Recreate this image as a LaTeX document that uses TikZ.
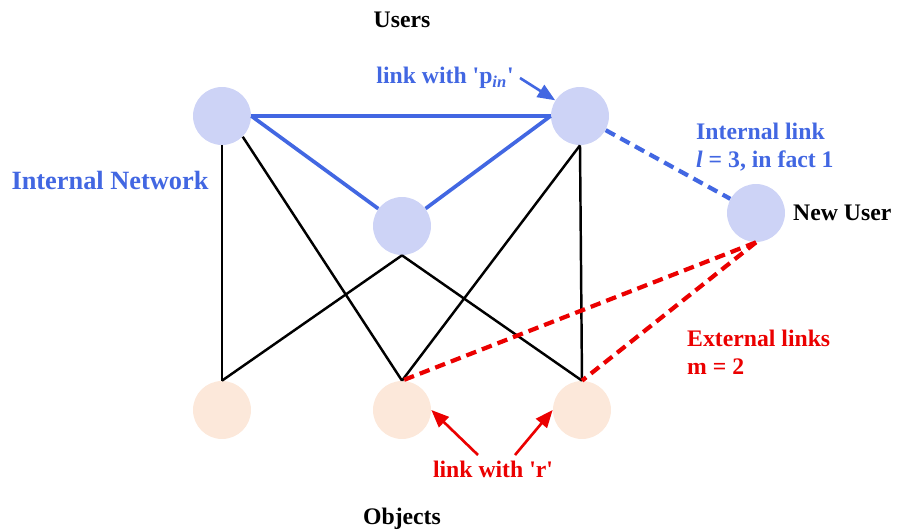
\documentclass[tikz,border=0pt]{standalone}
\usepackage{fontspec}
\setmainfont{Liberation Serif}
\usetikzlibrary{arrows.meta}

\definecolor{userfill}{RGB}{205,211,246}
\definecolor{objfill}{RGB}{252,232,218}
\definecolor{linkblue}{RGB}{66,103,226}
\definecolor{linkred}{RGB}{235,0,0}

\begin{document}
\begin{tikzpicture}[x=0.02cm, y=-0.02cm]

    \tikzstyle{user node} = [circle, fill=userfill, minimum size=1.16cm, inner sep=0pt];
    \tikzstyle{object node} = [circle, fill=objfill, minimum size=1.16cm, inner sep=0pt];
    \tikzstyle{label text} = [font=\fontsize{13.5}{16}\selectfont\bfseries, align=left];

    \useasboundingbox (0,0) rectangle (904,531);

    % Users and objects
    \node[user node] (U1) at (222,116) {};
    \node[user node] (U2) at (580,116) {};
    \node[user node] (U3) at (402,226) {};
    \node[user node] (NU) at (756,213) {};

    \node[object node] (O1) at (222,410) {};
    \node[object node] (O2) at (402,410) {};
    \node[object node] (O3) at (582,410) {};

    % Texts
    \node[label text] (users) at (402,20) {Users};
    \node[label text] (objects) at (402,519) {Objects};
    \node[label text, font=\fontsize{15}{18}\selectfont\bfseries, text=linkblue] (internal) at (110,180) {Internal Network};
    \node[label text, anchor=west] (newuser) at (787,213) {New User};
    \node[label text, text=linkblue, anchor=east] (pin) at (520,78) {link with \textquotesingle p\textsubscript{\itshape in}\textquotesingle};
    \node[label text, text=linkblue, anchor=west] (intlink) at (690,147) {Internal link\\{\itshape l} = 3, in fact 1};
    \node[label text, text=linkred, anchor=west] (extlink) at (681,352) {External links\\m = 2};
    \node[label text, text=linkred] (rlabel) at (493,469) {link with \textquotesingle r\textquotesingle};

    % Object links
    \draw [line width = 1.4pt] (U1.south) -- (O1.north);
    \draw [line width = 1.4pt] (U1.south east) -- (O2.north);
    \draw [line width = 1.4pt] (U3.south) -- (O1.north);
    \draw [line width = 1.4pt] (U3.south) -- (O3.north);
    \draw [line width = 1.4pt] (U2.south) -- (O2.north);
    \draw [line width = 1.4pt] (U2.south) -- (O3.north);

    % Internal network
    \draw [linkblue, line width = 2.1pt] (U1.east) -- (U2.west);
    \draw [linkblue, line width = 2.1pt] (U1.east) -- (U3);
    \draw [linkblue, line width = 2.1pt] (U3) -- (U2.west);
    \draw [linkblue, line width = 2.4pt, dash pattern=on 6pt off 3.5pt] (U2) -- (NU);

    % External links
    \draw [linkred, line width = 2.4pt, dash pattern=on 6pt off 3.5pt] (NU.south) -- (O2.north);
    \draw [linkred, line width = 2.4pt, dash pattern=on 6pt off 3.5pt] (NU.south) -- (O3.north);

    % Label arrows
    \coordinate (r1) at (478,455);
    \coordinate (r2) at (515,455);
    \draw [-{Triangle[length=10pt, width=8pt]}, linkblue, line width = 1.5pt] (pin.east) -- (U2);
    \draw [-{Triangle[length=10pt, width=8pt]}, linkred, line width = 1.5pt] (r1) -- (O2.east);
    \draw [-{Triangle[length=10pt, width=8pt]}, linkred, line width = 1.5pt] (r2) -- (O3.west);

\end{tikzpicture}
\end{document}
